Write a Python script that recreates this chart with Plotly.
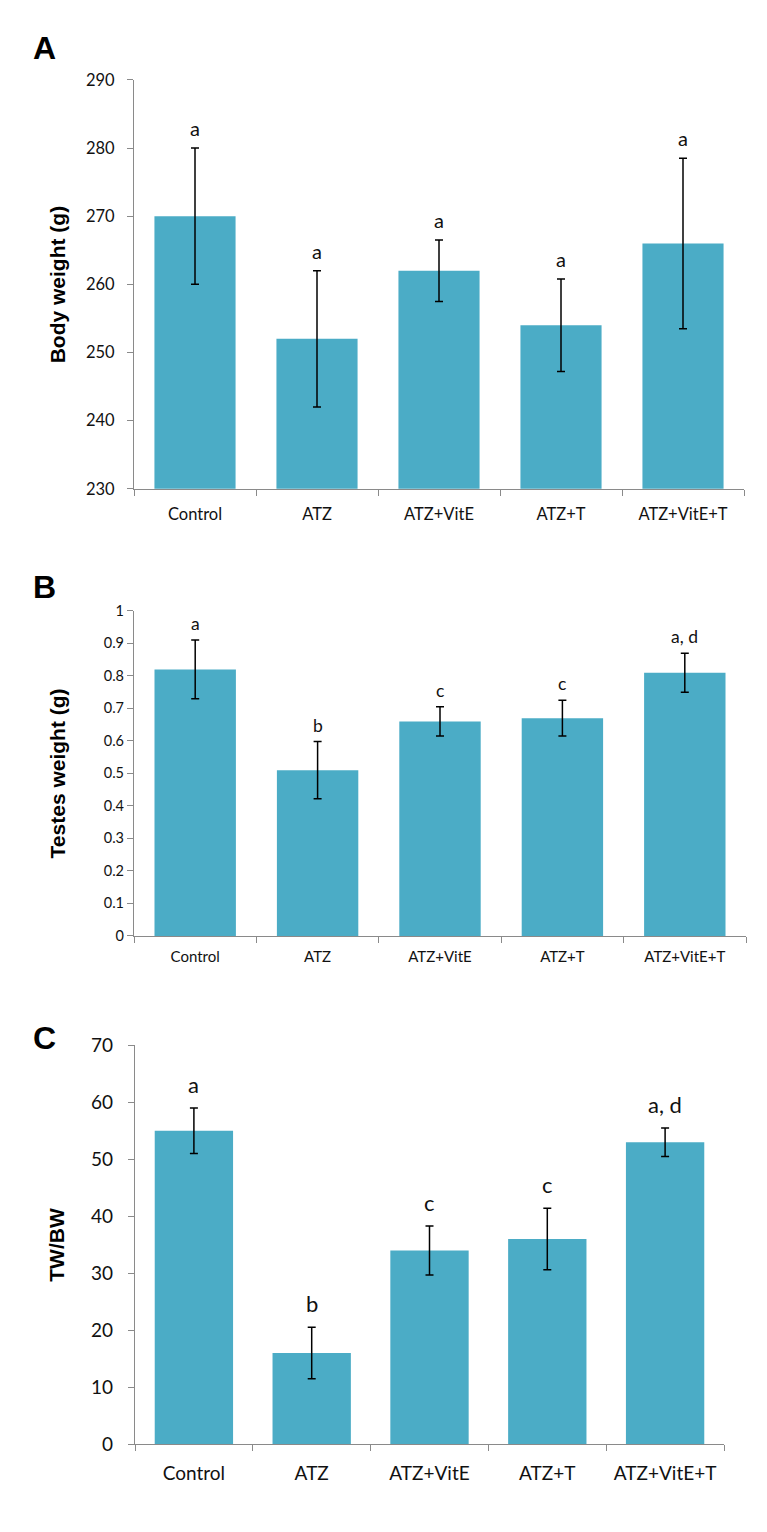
import plotly.graph_objects as go

categories = ["Control", "ATZ", "ATZ+VitE", "ATZ+T", "ATZ+VitE+T"]

body_weight = [270, 252, 262, 254, 266]
body_weight_err = [10, 10, 4.5, 6.8, 12.5]
body_letters = ["a", "a", "a", "a", "a"]

testes_weight = [0.82, 0.51, 0.66, 0.67, 0.81]
testes_weight_err = [0.09, 0.088, 0.045, 0.055, 0.06]
testes_letters = ["a", "b", "c", "c", "a, d"]

tw_bw = [55, 16, 34, 36, 53]
tw_bw_err = [4, 4.5, 4.3, 5.4, 2.5]
tw_bw_letters = ["a", "b", "c", "c", "a, d"]

W, H = 767, 1532
BAR = "#4BACC6"
AXC = "#8a8a8a"
TICKFONT = "Lato, Calibri, Liberation Sans, sans-serif"
BOLD = "Liberation Sans, Arial, sans-serif"


def px_x(p):
    return p / W


def px_y(p):
    return 1 - p / H


panels = [
    dict(vals=body_weight, err=body_weight_err, letters=body_letters,
         xd=(134, 744), yd=(69, 484), rng=[230, 290], dtick=10,
         tickfs=16.5, catfs=16.5, letfs=20, letshift=6, title="Body weight (g)",
         tag="A", tagy=36.5, ystand=9, xstand=10),
    dict(vals=testes_weight, err=testes_weight_err, letters=testes_letters,
         xd=(134, 746), yd=(608, 938), rng=[0, 1], dtick=0.1,
         tickfs=14.5, catfs=15, letfs=17.5, letshift=4, title="Testes weight (g)",
         tag="B", tagy=583.5, ystand=0, xstand=7),
    dict(vals=tw_bw, err=tw_bw_err, letters=tw_bw_letters,
         xd=(135, 724), yd=(1049, 1454), rng=[0, 70], dtick=10,
         tickfs=19, catfs=19, letfs=22, letshift=8, title="TW/BW",
         tag="C", tagy=1041.5, ystand=11, xstand=12),
]

fig = go.Figure()
annotations = []
layout = {}

for i, p in enumerate(panels, start=1):
    xa = "x" if i == 1 else f"x{i}"
    ya = "y" if i == 1 else f"y{i}"
    fig.add_trace(go.Bar(
        x=categories, y=p["vals"], xaxis=xa, yaxis=ya,
        marker=dict(color=BAR, line=dict(width=0)),
        error_y=dict(type="data", array=p["err"], visible=True,
                     color="black", thickness=1.5, width=4),
        showlegend=False, hoverinfo="skip",
    ))
    xkey = "xaxis" if i == 1 else f"xaxis{i}"
    ykey = "yaxis" if i == 1 else f"yaxis{i}"
    layout[xkey] = dict(
        domain=[px_x(p["xd"][0]), px_x(p["xd"][1])], anchor=ya,
        type="category", showline=True, linecolor=AXC, linewidth=1.2,
        ticks="outside", tickson="boundaries", ticklen=6, tickcolor=AXC,
        tickwidth=1.2, showgrid=False, zeroline=False,
        ticklabelstandoff=p["xstand"],
        tickfont=dict(family=TICKFONT, size=p["catfs"], color="#111"),
        fixedrange=True,
    )
    layout[ykey] = dict(
        domain=[px_y(p["yd"][1]), px_y(p["yd"][0])], anchor=xa,
        range=p["rng"], dtick=p["dtick"], tick0=0,
        showline=True, linecolor=AXC, linewidth=1.2,
        ticks="outside", ticklen=6, tickcolor=AXC, tickwidth=1.2,
        showgrid=False, zeroline=False, ticklabelstandoff=p["ystand"],
        tickfont=dict(family=TICKFONT, size=p["tickfs"], color="#111"),
        fixedrange=True,
    )
    for c, v, e, t in zip(categories, p["vals"], p["err"], p["letters"]):
        annotations.append(dict(
            x=c, y=v + e, xref=xa, yref=ya, text=t, showarrow=False,
            yanchor="bottom", xanchor="center", yshift=p["letshift"],
            font=dict(family=TICKFONT, size=p["letfs"], color="#111"),
        ))
    annotations.append(dict(
        x=px_x(57), y=px_y((p["yd"][0] + p["yd"][1]) / 2),
        xref="paper", yref="paper", text=f"<b>{p['title']}</b>",
        textangle=-90, showarrow=False, xanchor="center", yanchor="middle",
        font=dict(family=BOLD, size=21, color="black"),
    ))
    annotations.append(dict(
        x=px_x(31), y=px_y(p["tagy"]), xref="paper", yref="paper",
        text=f"<b>{p['tag']}</b>", showarrow=False, xanchor="left",
        yanchor="middle", font=dict(family=BOLD, size=32, color="black"),
    ))

fig.update_layout(
    width=W, height=H, margin=dict(l=0, r=0, t=0, b=0),
    paper_bgcolor="white", plot_bgcolor="white",
    bargap=0.335, annotations=annotations, **layout,
)

fig.write_html(
    "out.html",
    config={"displayModeBar": False},
    post_script=(
        "document.body.style.margin='0';"
        "document.body.style.padding='0';"
        "document.documentElement.style.overflow='hidden';"
        "document.body.style.overflow='hidden';"
    ),
)
